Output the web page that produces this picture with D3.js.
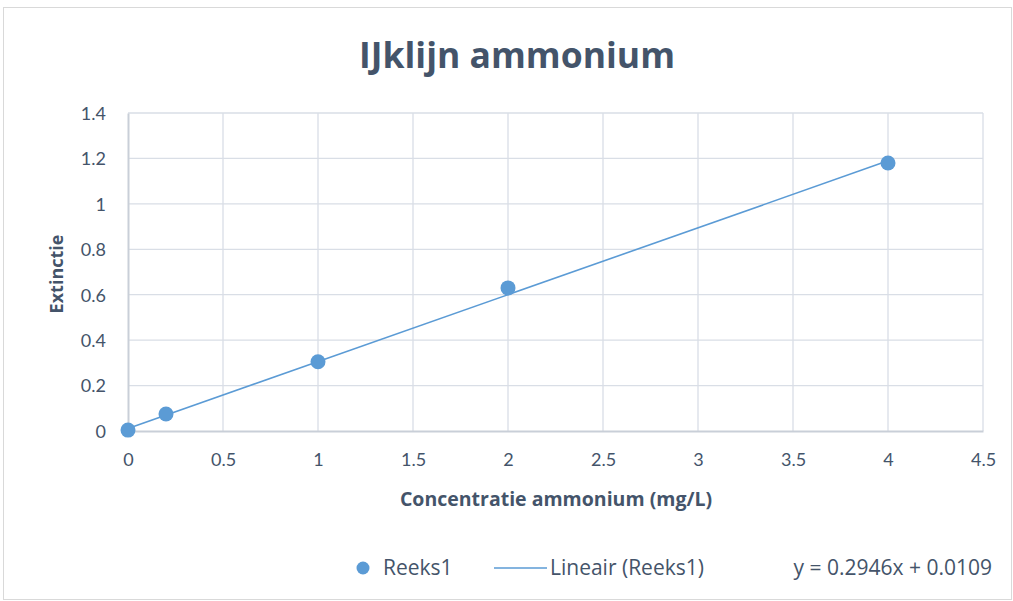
<!DOCTYPE html>
<html><head><meta charset="utf-8">
<script src="https://cdn.jsdelivr.net/npm/d3@7"></script>
<style>body{margin:0;background:#fff;} svg{display:block;font-family:"Open Sans",sans-serif;}</style>
</head><body>
<script>
const xValues = [0, 0.2, 1, 2, 4];
const yValues = [0.004, 0.075, 0.305, 0.63, 1.18];
const slope = 0.2946, intercept = 0.0109;
const xTicks = [0,0.5,1,1.5,2,2.5,3,3.5,4,4.5];
const yTicks = [0,0.2,0.4,0.6,0.8,1,1.2,1.4];
const title = "IJklijn ammonium";
const xTitle = "Concentratie ammonium (mg/L)";
const yTitle = "Extinctie";
const seriesName = "Reeks1";
const trendName = "Lineair (Reeks1)";
const equation = "y = 0.2946x + 0.0109";

const W = 1013, H = 601;
const txt = "#44546a", grid = "#d9dee6", blue = "#5b9bd5";
const svg = d3.select("body").append("svg").attr("width", W).attr("height", H);
svg.append("rect").attr("x",3.5).attr("y",7.5).attr("width",W-5).attr("height",H-9)
  .attr("fill","#fff").attr("stroke","#d9d9d9");

const x = d3.scaleLinear().domain([0,4.5]).range([128,983]);
const y = d3.scaleLinear().domain([0,1.4]).range([431,113]);

svg.append("text").attr("x",517).attr("y",68).attr("text-anchor","middle")
  .attr("fill",txt).attr("font-weight","bold").attr("font-size",35.5).text(title);

// grid
svg.append("g").selectAll("line").data(xTicks.slice(1)).join("line")
  .attr("x1",d=>x(d)).attr("x2",d=>x(d)).attr("y1",y(1.4)).attr("y2",y(0))
  .attr("stroke",grid).attr("stroke-width",1.3);
svg.append("g").selectAll("line").data(yTicks.slice(1)).join("line")
  .attr("x1",x(0)).attr("x2",x(4.5)).attr("y1",d=>y(d)).attr("y2",d=>y(d))
  .attr("stroke",grid).attr("stroke-width",1.3);

// axes
const xa = svg.append("g").attr("transform",`translate(0,${y(0)})`)
  .call(d3.axisBottom(x).tickValues(xTicks).tickSize(0).tickPadding(22).tickFormat(d3.format("")));
const ya = svg.append("g").attr("transform",`translate(${x(0)},0)`)
  .call(d3.axisLeft(y).tickValues(yTicks).tickSize(0).tickPadding(22).tickFormat(d3.format("")));
[xa,ya].forEach(a=>{
  a.select(".domain").attr("stroke","#c9cfd8").attr("stroke-width",2);
  a.selectAll("text").attr("fill",txt).attr("font-size",18).attr("font-family","Lato,sans-serif");
});
ya.selectAll("text").attr("dy","0.35em");

svg.append("text").attr("x",556).attr("y",506).attr("text-anchor","middle")
  .attr("fill",txt).attr("font-weight","bold").attr("font-size",19.5).text(xTitle);
svg.append("text").attr("transform","translate(63,274) rotate(-90)").attr("text-anchor","middle")
  .attr("fill",txt).attr("font-weight","bold").attr("font-size",18).text(yTitle);

// trendline
svg.append("line").attr("x1",x(0)).attr("y1",y(intercept)).attr("x2",x(4)).attr("y2",y(slope*4+intercept))
  .attr("stroke",blue).attr("stroke-width",1.6);
// points
svg.append("g").selectAll("circle").data(xValues.map((v,i)=>[v,yValues[i]])).join("circle")
  .attr("cx",d=>x(d[0])).attr("cy",d=>y(d[1])).attr("r",7.5).attr("fill",blue);

// legend
const ly = 568;
svg.append("circle").attr("cx",363).attr("cy",ly).attr("r",6.5).attr("fill",blue);
svg.append("text").attr("x",383).attr("y",ly).attr("dy","0.35em").attr("fill",txt).attr("font-size",21).text(seriesName);
svg.append("line").attr("x1",494).attr("x2",547).attr("y1",ly).attr("y2",ly).attr("stroke",blue).attr("stroke-width",1.6);
svg.append("text").attr("x",550).attr("y",ly).attr("dy","0.35em").attr("fill",txt).attr("font-size",21).text(trendName);
svg.append("text").attr("x",992).attr("y",ly).attr("dy","0.35em").attr("text-anchor","end").attr("fill",txt).attr("font-size",21).text(equation);
</script>
</body></html>
